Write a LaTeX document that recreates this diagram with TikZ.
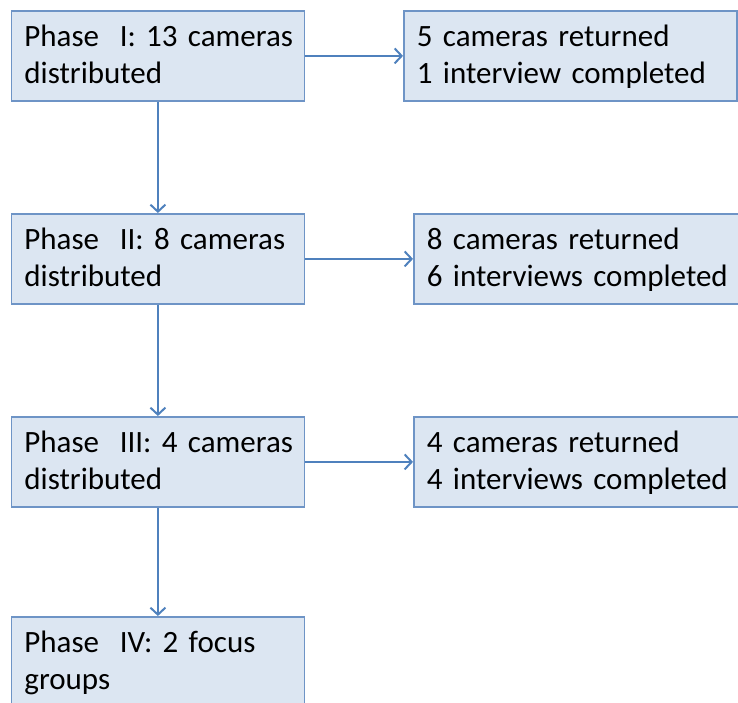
\documentclass[tikz,border=0pt]{standalone}
\usepackage{fontspec}
\setmainfont{Carlito}[WordSpace=0.72]
\usetikzlibrary{arrows.meta}
\definecolor{boxfill}{HTML}{DCE6F2}
\definecolor{boxline}{HTML}{6E94C6}
\definecolor{arrowline}{HTML}{4F81BD}
\begin{document}
\begin{tikzpicture}[x=1pt,y=-1pt,
  box/.style={draw=boxline, fill=boxfill, line width=1.8pt, anchor=north west,
    minimum height=90pt, minimum width=#1, inner xsep=13pt, inner ysep=0pt,
    text width=#1-26pt, align=left, font=\fontsize{31}{37}\selectfont,
    text height=36pt, text depth=54pt},
  conn/.style={draw=arrowline, line width=2pt, -{Straight Barb[length=7pt,width=15pt]}}]
\useasboundingbox (0,0) rectangle (738,702);
\clip (0,0) rectangle (738,702);
\node[box=293pt] (p1) at (10.5,10) {\mbox{Phase\ \ I: 13 cameras}\\\mbox{distributed}};
\node[box=333pt] (r1) at (403,10) {\mbox{5 cameras returned}\\\mbox{1 interview completed}};
\node[box=293pt] (p2) at (10.5,213) {\mbox{Phase\ \ II: 8 cameras}\\\mbox{distributed}};
\node[box=325pt] (r2) at (413,213) {\mbox{8 cameras returned}\\\mbox{6 interviews completed}};
\node[box=293pt] (p3) at (10.5,416) {\mbox{Phase\ \ III: 4 cameras}\\\mbox{distributed}};
\node[box=325pt] (r3) at (413,416) {\mbox{4 cameras returned}\\\mbox{4 interviews completed}};
\node[box=293pt] (p4) at (10.5,616) {\mbox{Phase\ \ IV: 2 focus}\\\mbox{groups}};
\draw[conn] (p1.east) -- (r1.west);
\draw[conn] (p2.east) -- (r2.west);
\draw[conn] (p3.east) -- (r3.west);
\draw[conn] (p1.south) -- (p2.north);
\draw[conn] (p2.south) -- (p3.north);
\draw[conn] (p3.south) -- (p4.north);
\end{tikzpicture}
\end{document}
